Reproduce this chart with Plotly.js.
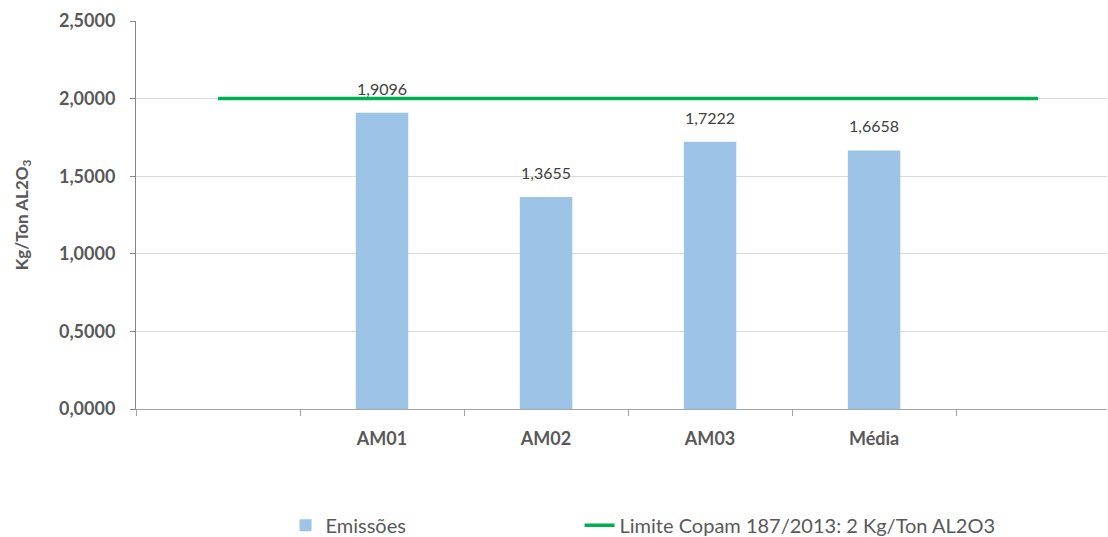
<!DOCTYPE html>
<html>
<head>
<meta charset="utf-8">
<script src="https://cdn.plot.ly/plotly-3.0.1.min.js"></script>
<style>html,body{margin:0;padding:0;background:#fff;}#chart{width:1108px;height:537px;}</style>
</head>
<body>
<div id="chart"></div>
<script>
const allCategories = [" ", "AM01", "AM02", "AM03", "Média", "  "];
const barCategories = ["AM01", "AM02", "AM03", "Média"];
const emissions = [1.9096, 1.3655, 1.7222, 1.6658];
const limitValue = 2;
const limitLine = allCategories.map(() => limitValue);
const yTicks = [0, 0.5, 1, 1.5, 2, 2.5];
const yTickLabels = ["0,0000", "0,5000", "1,0000", "1,5000", "2,0000", "2,5000"];
const fmt = v => v.toFixed(4).replace('.', ',');

const font = "Lato, 'Open Sans', sans-serif";

const traces = [
  {
    type: 'bar',
    name: 'Emissões',
    x: barCategories,
    y: emissions,
    width: 0.32,
    marker: {color: '#9DC3E6'},
    legend: 'legend',
    hoverinfo: 'x+y'
  },
  {
    type: 'scatter',
    mode: 'lines',
    name: 'Limite Copam 187/2013: 2 Kg/Ton AL2O3',
    x: allCategories,
    y: limitLine,
    line: {color: '#00B050', width: 3.5},
    legend: 'legend2'
  }
];

const labelAnnotations = barCategories.map((c, i) => ({
  x: c,
  y: emissions[i],
  xref: 'x',
  yref: 'y',
  text: fmt(emissions[i]),
  showarrow: false,
  yanchor: 'bottom',
  yshift: 13,
  font: {family: font, size: 16, color: '#404040'}
}));

const legendFont = {family: font, size: 20, color: '#595959'};

const layout = {
  width: 1108,
  height: 537,
  margin: {l: 136, r: 1, t: 21, b: 128},
  paper_bgcolor: '#ffffff',
  plot_bgcolor: '#ffffff',
  font: {family: font, color: '#595959'},
  showlegend: true,
  legend: {
    orientation: 'h',
    xref: 'paper',
    x: 0.154, xanchor: 'left',
    yref: 'container',
    y: 0.022, yanchor: 'middle',
    font: legendFont
  },
  legend2: {
    orientation: 'h',
    xref: 'paper',
    x: 0.4568, xanchor: 'left',
    yref: 'container',
    y: 0.022, yanchor: 'middle',
    font: legendFont
  },
  annotations: labelAnnotations,
  xaxis: {
    type: 'category',
    categoryorder: 'array',
    categoryarray: allCategories,
    range: [-0.5, 5.42],
    tickson: 'boundaries',
    ticks: 'outside',
    ticklen: 6,
    tickcolor: '#a6a6a6',
    showline: true,
    linecolor: '#a6a6a6',
    showgrid: false,
    zeroline: false,
    automargin: false,
    ticklabelstandoff: 13,
    tickfont: {family: font, size: 18, color: '#595959', weight: 'bold'},
    fixedrange: true
  },
  yaxis: {
    range: [0, 2.5],
    tickvals: yTicks,
    ticktext: yTickLabels,
    ticks: 'outside',
    ticklen: 5,
    tickcolor: '#868686',
    showline: true,
    linecolor: '#868686',
    gridcolor: '#d9d9d9',
    gridwidth: 1,
    zeroline: false,
    automargin: false,
    ticklabelstandoff: 11,
    tickfont: {family: font, size: 18, color: '#595959', weight: 'bold'},
    title: {
      text: 'Kg/Ton AL2O<sub>3</sub>',
      font: {family: font, size: 17, color: '#595959', weight: 'bold'},
      standoff: 26
    },
    fixedrange: true
  }
};

Plotly.newPlot('chart', traces, layout, {displayModeBar: false, staticPlot: true});
</script>
</body>
</html>
